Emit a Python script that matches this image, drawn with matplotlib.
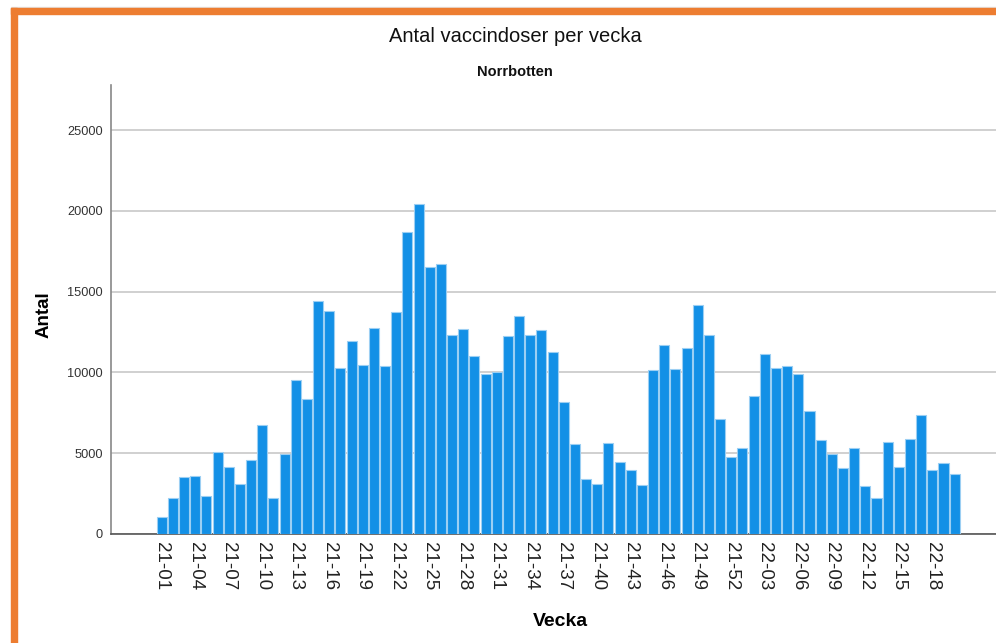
import matplotlib.pyplot as plt
from matplotlib.patches import Rectangle

# Veckor 21-01 .. 22-20
weeks = [f"21-{w:02d}" for w in range(1, 53)] + [f"22-{w:02d}" for w in range(1, 21)]

# Antal vaccindoser per vecka
doses_2021 = [
    1030, 2210, 3550, 3600, 2350, 5060, 4170, 3100, 4590, 6740,
    2210, 4920, 9550, 8350, 14440, 13780, 10250, 11940, 10480, 12730,
    10370, 13760, 18700, 20430, 16550, 16690, 12290, 12690, 11010, 9920,
    10040, 12230, 13470, 12330, 12600, 11240, 8140, 5580, 3430, 3100,
    5640, 4460, 3930, 3060, 10170, 11690, 10230, 11490, 14150, 12290,
    7130, 4750,
]
doses_2022 = [
    5330, 8550, 11120, 10290, 10370, 9880, 7620, 5830, 4940, 4110,
    5350, 3000, 2230, 5680, 4170, 5890, 7360, 3990, 4400, 3740,
]
doses = doses_2021 + doses_2022

bar_color = '#1390e6'
edge_color = '#9ccff3'
grid_color = '#c8c8c8'
orange = '#ed7d31'

fig = plt.figure(figsize=(9.96, 6.43), dpi=100)
plt.rcParams['font.family'] = ['Liberation Sans', 'DejaVu Sans']

# Orange ram (vänster och topp)
fig.patches.append(Rectangle((11 / 996, 1 - 8 / 643), 1, 1 / 643, transform=fig.transFigure,
                             color='#e4e4e4', zorder=0))
fig.patches.append(Rectangle((11 / 996, 1 - 14 / 643), 1, 6 / 643, transform=fig.transFigure,
                             color=orange, zorder=0))
fig.patches.append(Rectangle((11 / 996, 0), 6 / 996, 1 - 8 / 643, transform=fig.transFigure,
                             color=orange, zorder=0))

ax = fig.add_axes([111 / 996, 1 - 534 / 643, 1 - 111 / 996, (534 - 85) / 643])

x = list(range(len(weeks)))
ax.bar(x, doses, width=0.9, color=bar_color, edgecolor=edge_color, linewidth=0.8, zorder=3)

ax.set_xlim(-4.54, 74.7)
ax.set_ylim(0, 27785)

ax.set_yticks([0, 5000, 10000, 15000, 20000, 25000])
ax.set_yticklabels(['0', '5000', '10000', '15000', '20000', '25000'], fontsize=9.2, color='#333333')
ax.yaxis.grid(True, color=grid_color, linewidth=1.2, zorder=0)
ax.tick_params(axis='y', length=0, pad=6)

ax.set_xticks(x[::3])
ax.set_xticklabels(weeks[::3], rotation=270, fontsize=13.5, color='#222222')
ax.tick_params(axis='x', length=0, pad=6)

for side in ['top', 'right']:
    ax.spines[side].set_visible(False)
ax.spines['left'].set_color('#888888')
ax.spines['left'].set_linewidth(1.2)
ax.spines['bottom'].set_color('#555555')
ax.spines['bottom'].set_linewidth(1.2)

fig.text(44 / 996, 1 - 315 / 643, 'Antal', rotation=90, fontsize=13.5, fontweight='bold',
         ha='center', va='center')
fig.text(560 / 996, 1 - 622 / 643, 'Vecka', fontsize=14, fontweight='bold',
         ha='center', va='center')
fig.text(515 / 996, 1 - 36 / 643, 'Antal vaccindoser per vecka', fontsize=14.5,
         ha='center', va='center', color='#111111')
fig.text(515 / 996, 1 - 72 / 643, 'Norrbotten', fontsize=10.5, fontweight='bold',
         ha='center', va='center', color='#111111')

fig.savefig('out.png', dpi=100)
